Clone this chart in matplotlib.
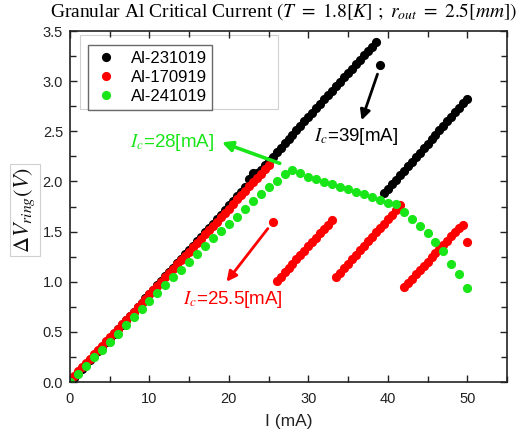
import matplotlib
matplotlib.use("Agg")
import matplotlib.pyplot as plt
from matplotlib.patches import Rectangle

# ---------------- data ----------------
labels = ["Al-231019", "Al-170919", "Al-241019"]

# Al-231019 (black)
black_I = [0.0, 0.5, 1.0, 1.5, 2.0, 2.5, 3.0, 3.5, 4.0, 4.5, 5.0, 5.5, 6.0, 6.5, 7.0, 7.5,
           8.0, 8.5, 9.0, 9.5, 10.0, 10.5, 11.0, 11.5, 12.0, 12.5, 13.0, 13.5, 14.0, 14.5,
           15.0, 15.5, 16.0, 16.5, 17.0, 17.5, 18.0, 18.5, 19.0, 19.5, 20.0, 20.5, 21.0,
           21.5, 22.0, 22.5, 23.0, 23.5, 24.0, 24.5, 25.0, 25.5, 26.0, 26.5, 27.0, 27.5,
           28.0, 28.5, 29.0, 29.5, 30.0, 30.5, 31.0, 31.5, 32.0, 32.5, 33.0, 33.5, 34.0,
           34.5, 35.0, 35.5, 36.0, 36.5, 37.0, 37.5, 38.0, 38.5,
           39.0,
           39.5, 40.0, 40.5, 41.0, 41.5, 42.0, 42.5, 43.0, 43.5, 44.0, 44.5, 45.0, 45.5,
           46.0, 46.5, 47.0, 47.5, 48.0, 48.5, 49.0, 49.5, 50.0]
black_V = [0.00, 0.04, 0.09, 0.13, 0.18, 0.22, 0.26, 0.31, 0.35, 0.40, 0.44, 0.48, 0.53, 0.57, 0.62, 0.66,
           0.70, 0.75, 0.79, 0.84, 0.88, 0.92, 0.97, 1.01, 1.06, 1.10, 1.14, 1.19, 1.23, 1.28,
           1.32, 1.36, 1.41, 1.45, 1.50, 1.54, 1.58, 1.63, 1.67, 1.72, 1.76, 1.80, 1.85,
           1.89, 1.94, 2.02, 2.08, 2.08, 2.11, 2.16, 2.20, 2.24, 2.29, 2.33, 2.38, 2.42,
           2.46, 2.51, 2.55, 2.60, 2.64, 2.68, 2.73, 2.77, 2.82, 2.86, 2.90, 2.95, 2.99,
           3.04, 3.08, 3.12, 3.17, 3.21, 3.26, 3.30, 3.34, 3.39,
           3.16,
           1.88, 1.92, 1.97, 2.01, 2.06, 2.10, 2.15, 2.19, 2.24, 2.28, 2.33, 2.37, 2.42,
           2.46, 2.51, 2.55, 2.60, 2.64, 2.69, 2.73, 2.78, 2.82]

# Al-170919 (red)
red_I = [0.0, 0.5, 1.0, 1.5, 2.0, 2.5, 3.0, 3.5, 4.0, 4.5, 5.0, 5.5, 6.0, 6.5, 7.0, 7.5,
         8.0, 8.5, 9.0, 9.5, 10.0, 10.5, 11.0, 11.5, 12.0, 12.5, 13.0, 13.5, 14.0, 14.5,
         15.0, 15.5, 16.0, 16.5, 17.0, 17.5, 18.0, 18.5, 19.0, 19.5, 20.0, 20.5, 21.0,
         21.5, 22.0, 22.5, 23.0, 23.5, 24.0, 24.5, 25.0,
         25.5,
         26.0, 26.5, 27.0, 27.5, 28.0, 28.5, 29.0, 29.5, 30.0, 30.5, 31.0, 31.5, 32.0,
         32.5, 33.0,
         33.5, 34.0, 34.5, 35.0, 35.5, 36.0, 36.5, 37.0, 37.5, 38.0, 38.5, 39.0, 39.5,
         40.0, 40.5, 41.0, 41.5,
         42.0, 42.5, 43.0, 43.5, 44.0, 44.5, 45.0, 45.5, 46.0, 46.5, 47.0, 47.5, 48.0,
         48.5, 49.0, 49.5,
         50.0]
red_V = [0.02, 0.06, 0.11, 0.15, 0.19, 0.23, 0.28, 0.32, 0.36, 0.41, 0.45, 0.49, 0.53, 0.58, 0.62, 0.66,
         0.70, 0.75, 0.79, 0.83, 0.88, 0.92, 0.96, 1.00, 1.05, 1.09, 1.13, 1.18, 1.22, 1.26,
         1.30, 1.35, 1.39, 1.43, 1.48, 1.52, 1.56, 1.60, 1.65, 1.69, 1.73, 1.77, 1.82,
         1.86, 1.90, 1.95, 1.99, 2.03, 2.07, 2.12, 2.16,
         1.60,
         1.01, 1.05, 1.10, 1.14, 1.18, 1.23, 1.27, 1.31, 1.36, 1.40, 1.44, 1.49, 1.53,
         1.57, 1.62,
         1.05, 1.09, 1.14, 1.18, 1.23, 1.27, 1.32, 1.36, 1.41, 1.45, 1.50, 1.54, 1.58,
         1.63, 1.67, 1.72, 1.76,
         0.95, 0.99, 1.03, 1.08, 1.12, 1.16, 1.20, 1.25, 1.29, 1.33, 1.37, 1.41, 1.46,
         1.50, 1.54, 1.57,
         1.40]

# Al-241019 (green)
green_I = [0, 1, 2, 3, 4, 5, 6, 7, 8, 9, 10, 11, 12, 13, 14, 15, 16, 17, 18, 19, 20,
           21, 22, 23, 24, 25, 26, 27, 28, 29, 30, 31, 32, 33, 34, 35, 36, 37, 38, 39, 40,
           41, 42, 43, 44, 45, 46, 47, 48, 49, 50]
green_V = [0.00, 0.08, 0.16, 0.25, 0.32, 0.40, 0.48, 0.57, 0.65, 0.73, 0.81, 0.89, 0.97,
           1.05, 1.12, 1.20, 1.28, 1.36, 1.44, 1.51, 1.58, 1.65, 1.73, 1.80, 1.87, 1.94,
           2.00, 2.07, 2.11, 2.08, 2.04, 2.02, 1.99, 1.97, 1.94, 1.92, 1.89, 1.87, 1.84,
           1.81, 1.78, 1.77, 1.70, 1.63, 1.56, 1.49, 1.40, 1.31, 1.18, 1.08, 0.94]

x_ticks = [0, 10, 20, 30, 40, 50]
y_ticks = [0.0, 0.5, 1.0, 1.5, 2.0, 2.5, 3.0, 3.5]

# ---------------- style ----------------
plt.rcParams['font.family'] = ['Liberation Sans', 'DejaVu Sans']
plt.rcParams['mathtext.fontset'] = 'stix'

BLACK = '#000000'
RED = '#ff0000'
GREEN = '#19e619'

fig = plt.figure(figsize=(5.20, 4.43), dpi=100)
ax = fig.add_axes([70/520, 1-382/443, 437/520, 351/443])

ms = 6.6
ax.plot(black_I, black_V, 'o', color=BLACK, ms=ms, mec='none', label=labels[0])
ax.plot(red_I, red_V, 'o', color=RED, ms=ms, mec='none', label=labels[1])
ax.plot(green_I, green_V, 'o', color=GREEN, ms=ms, mec='none', label=labels[2])

ax.set_xlim(0, 55)
ax.set_ylim(0, 3.5)
ax.set_xticks(x_ticks)
ax.set_yticks(y_ticks)
ax.set_xticks([5, 15, 25, 35, 45, 55], minor=True)
ax.set_yticks([0.25, 0.75, 1.25, 1.75, 2.25, 2.75, 3.25], minor=True)
ax.set_yticklabels([f"{v:.1f}" for v in y_ticks])
ax.tick_params(which='both', direction='in', top=True, right=True, colors='#222222',
               labelcolor='#222222', width=1.0)
ax.tick_params(which='major', length=5, labelsize=10.5)
ax.tick_params(which='minor', length=4)
ax.tick_params(axis='x', pad=7)
ax.tick_params(axis='y', pad=5)
for s in ax.spines.values():
    s.set_linewidth(1.2)
    s.set_color('#222222')

ax.set_xlabel('I (mA)', fontsize=12.5, labelpad=6, color='#222222')
ax.set_ylabel(r'$\Delta V_{ring}(V)$', fontsize=16, color='#111111',
              bbox=dict(facecolor='white', edgecolor='#d0d0d0', boxstyle='square,pad=0.12', lw=0.8))
ax.yaxis.set_label_coords(-0.075, 0.49)

fig.text(284/520, 1-12/443,
         r'Granular Al Critical Current $(T\ =\ 1.8[K]\ ;\ r_{out}\ =\ 2.5[mm])$',
         fontsize=14, family='Liberation Serif', ha='center', va='center')

# outer light frame behind legend
ax.add_patch(Rectangle((10/437, (382-109)/351), 198/437, 74/351, transform=ax.transAxes,
                       fill=False, edgecolor='#d0d0d0', lw=0.8, zorder=1))

leg = ax.legend(loc='upper left', bbox_to_anchor=((88-70)/437, (382-45)/351),
                borderaxespad=0, fontsize=12, frameon=True, fancybox=False,
                edgecolor='#444444', handlelength=1.5, handletextpad=0.7,
                labelspacing=0.25, borderpad=0.35, markerscale=1.0)
leg.get_frame().set_linewidth(1.0)

# annotations
ax.annotate('', xy=(19.1, 2.39), xytext=(26.4, 2.18),
            arrowprops=dict(arrowstyle='-|>', color=GREEN, lw=2.6, mutation_scale=15,
                            shrinkA=0, shrinkB=0))
ax.text(12.8, 2.39, r'$I_c$=28[mA]', color=GREEN, fontsize=13.5, ha='center', va='center')

ax.annotate('', xy=(36.7, 2.61), xytext=(38.7, 3.07),
            arrowprops=dict(arrowstyle='-|>', color=BLACK, lw=2.0, mutation_scale=15,
                            shrinkA=0, shrinkB=0))
ax.text(36.0, 2.45, r'$I_c$=39[mA]', color=BLACK, fontsize=13.5, ha='center', va='center')

ax.annotate('', xy=(19.7, 1.0), xytext=(24.9, 1.53),
            arrowprops=dict(arrowstyle='-|>', color=RED, lw=2.0, mutation_scale=15,
                            shrinkA=0, shrinkB=0))
ax.text(20.5, 0.82, r'$I_c$=25.5[mA]', color=RED, fontsize=13.5, ha='center', va='center')

fig.savefig('out.png', dpi=100)
